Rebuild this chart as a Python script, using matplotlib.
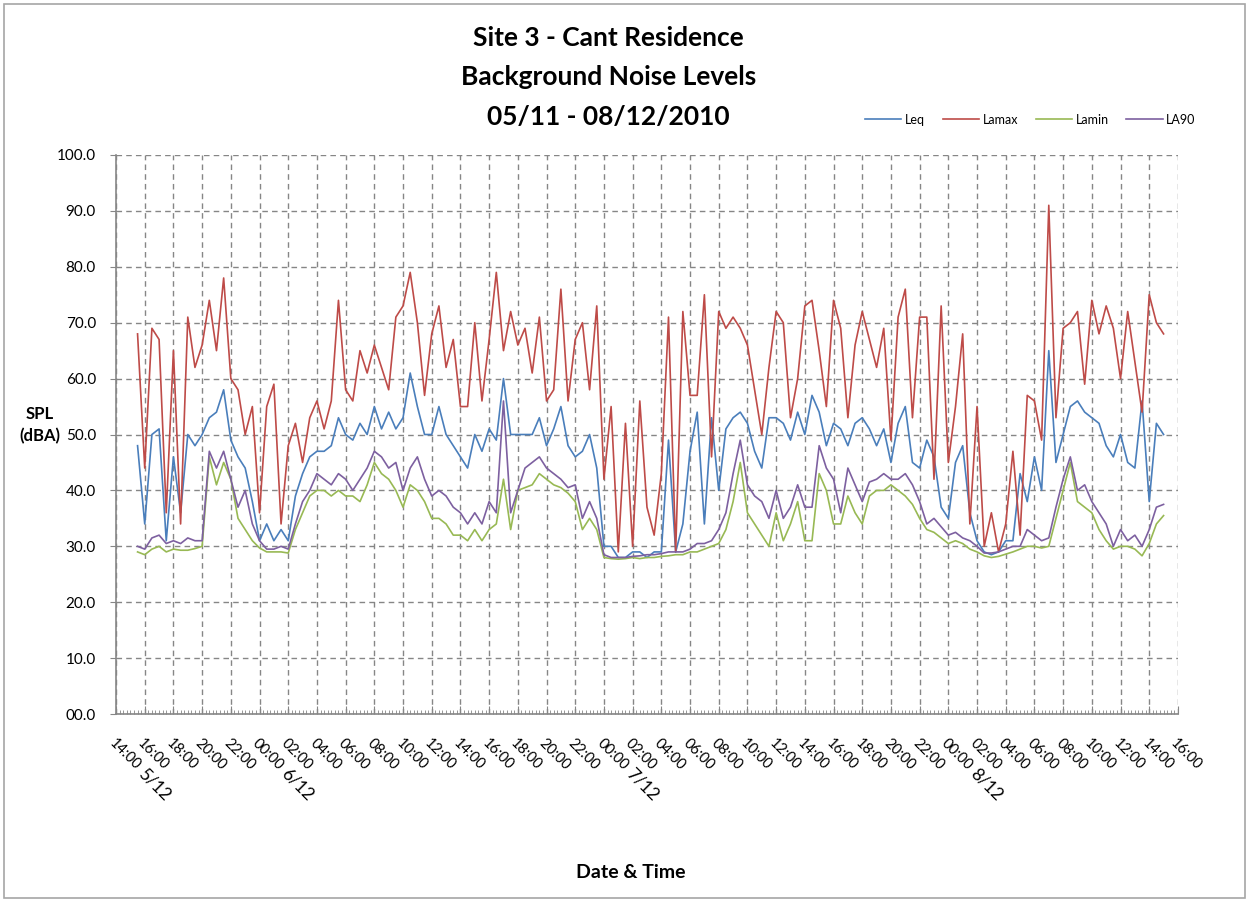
import numpy as np
import pandas as pd
import matplotlib
matplotlib.use("Agg")
import matplotlib.pyplot as plt
import matplotlib.dates as mdates
import matplotlib.transforms as mtransforms
from matplotlib.patches import Rectangle

plt.rcParams['font.family'] = ['Lato', 'DejaVu Sans']

# 30 minute readings, 15:30 05/12 to 15:00 08/12/2010
times = pd.date_range('2010-12-05 15:30', periods=144, freq='30min')

leq = [48, 34,
       50, 51, 31, 46,  36, 50, 48, 50,  53, 54, 58, 49,  46, 44, 38, 31,
       34, 31, 33, 31,  39, 43, 46, 47,  47, 48, 53, 50,  49, 52, 50, 55,
       51, 54, 51, 53,  61, 55, 50, 50,  55, 50, 48, 46,  44, 50, 47, 51,
       49, 60, 50, 50,  50, 50, 53, 48,  51, 55, 48, 46,  47, 50, 44, 30,
       30, 28, 28, 29,  29, 28, 29, 29,  49, 29, 34, 47,  54, 34, 53, 40,
       51, 53, 54, 52,  47, 44, 53, 53,  52, 49, 54, 50,  57, 54, 48, 52,
       51, 48, 52, 53,  51, 48, 51, 45,  52, 55, 45, 44,  49, 46, 37, 35,
       45, 48, 36, 31,  29, 28.5, 29, 31,  31, 43, 38, 46,  40, 65, 45, 50,
       55, 56, 54, 53,  52, 48, 46, 50,  45, 44, 56, 38,
       52, 50]

lamax = [68, 44,
         69, 67, 36, 65,  34, 71, 62, 66,  74, 65, 78, 60,  58, 50, 55, 36,
         55, 59, 34, 48,  52, 45, 53, 56,  51, 56, 74, 58,  56, 65, 61, 66,
         62, 58, 71, 73,  79, 70, 57, 68,  73, 62, 67, 55,  55, 70, 56, 67,
         79, 65, 72, 66,  69, 61, 71, 56,  58, 76, 56, 67,  70, 58, 73, 42,
         55, 29, 52, 30,  56, 37, 32, 43,  71, 29, 72, 57,  57, 75, 46, 72,
         69, 71, 69, 66,  58, 50, 62, 72,  70, 53, 60, 73,  74, 65, 55, 74,
         69, 53, 66, 72,  67, 62, 69, 49,  71, 76, 53, 71,  71, 42, 73, 45,
         55, 68, 34, 55,  30, 36, 29, 34,  47, 32, 57, 56,  49, 91, 53, 69,
         70, 72, 59, 74,  68, 73, 69, 60,  72, 63, 54, 75,
         70, 68]

lamin = [29, 28.5,
         29.5, 30, 29, 29.5,  29.3, 29.3, 29.6, 30,  46, 41, 45, 42,  35, 33, 31, 29.7,
         29, 29, 29, 28.8,  33, 36, 39, 40,  40, 39, 40, 39,  39, 38, 41, 45,
         43, 42, 40, 37,  41, 40, 38, 35,  35, 34, 32, 32,  31, 33, 31, 33,
         34, 42, 33, 40,  40.5, 41, 43, 42,  41, 40.5, 39.5, 38,  33, 35, 33, 28,
         27.8, 27.7, 27.8, 28,  27.8, 28, 28, 28.2,  28.3, 28.5, 28.5, 29,  29, 29.5, 30, 30.5,
         33, 38, 45, 36,  34, 32, 30, 36,  31, 34, 38, 31,  31, 43, 40, 34,
         34, 39, 36, 34,  39, 40, 40, 41,  40, 39, 37.5, 35,  33, 32.5, 31.5, 30.5,
         31, 30.5, 29.5, 29,  28.3, 28, 28.2, 28.6,  29, 29.5, 30, 30,  29.7, 30, 35, 40,
         45, 38, 37, 36,  33, 31, 29.5, 30,  30, 29.5, 28.3, 30.5,
         34, 35.5]

la90 = [30, 29.5,
        31.5, 32, 30.5, 31,  30.5, 31.5, 31, 31,  47, 44, 47, 42,  37, 40, 34, 31,
        29.5, 29.5, 30, 29.5,  34, 38, 40, 43,  42, 41, 43, 42,  40, 42, 44, 47,
        46, 44, 45, 40,  44, 46, 42, 39,  40, 39, 37, 36,  34, 36, 34, 38,
        36, 56, 36, 40,  44, 45, 46, 44,  43, 42, 40.5, 41,  35, 38, 35, 28.5,
        28, 28, 28, 28.2,  28.3, 28.5, 28.5, 28.7,  29, 29, 29, 29.5,  30.5, 30.5, 31, 33,
        36, 43, 49, 41,  39, 38, 35, 40,  35, 37, 41, 37,  37, 48, 44, 42,
        36, 44, 41, 38,  41.5, 42, 43, 42,  42, 43, 41, 38,  34, 35, 33.5, 32,
        32.5, 31.5, 31, 30,  28.8, 28.8, 29, 29.5,  30, 30, 33, 32,  31, 31.5, 37, 42,
        46, 40, 41, 38,  36, 34, 30, 33,  31, 32, 30, 33,
        37, 37.5]

series = [('Leq', leq, '#4A7EBB'), ('Lamax', lamax, '#BE4B48'),
          ('Lamin', lamin, '#98B954'), ('LA90', la90, '#7D60A0')]

date_labels = {pd.Timestamp('2010-12-05 14:00'): '5/12',
               pd.Timestamp('2010-12-06 00:00'): '6/12',
               pd.Timestamp('2010-12-07 00:00'): '7/12',
               pd.Timestamp('2010-12-08 00:00'): '8/12'}

fig = plt.figure(figsize=(12.49, 9.01), dpi=100)
fig.patches.append(Rectangle((0.003, 0.003), 0.994, 0.993, transform=fig.transFigure,
                             fill=False, edgecolor='#a6a6a6', lw=1.2))
ax = fig.add_axes([0.0929, 0.2075, 0.8502, 0.6205])

for name, vals, col in series:
    ax.plot(times, vals, color=col, lw=1.2, label=name)

ax.set_xlim(pd.Timestamp('2010-12-05 14:00'), pd.Timestamp('2010-12-08 16:00'))
ax.set_ylim(0, 100)
ax.set_yticks(np.arange(0, 101, 10))
ax.set_yticklabels(['00.0'] + ['%.1f' % v for v in np.arange(10, 101, 10)], fontsize=11)

ax.xaxis.set_major_locator(mdates.HourLocator(byhour=range(0, 24, 2)))
ax.xaxis.set_minor_locator(mdates.MinuteLocator(byminute=[0, 15, 30, 45]))
ax.xaxis.set_major_formatter(mdates.DateFormatter('%H:%M'))
for lab in ax.get_xticklabels():
    lab.set_rotation(-45)
    lab.set_ha('left')
    lab.set_va('top')
    lab.set_rotation_mode('anchor')
    lab.set_fontsize(10.5)

ax.tick_params(axis='x', which='major', direction='in', length=6, color='#868686', pad=16)
ax.tick_params(axis='x', which='minor', direction='in', length=3, color='#868686')
ax.tick_params(axis='y', direction='out', length=4.5, color='#868686', pad=10)

ax.grid(True, which='major', color='#868686', ls=(0, (4, 3)), lw=1)
ax.set_axisbelow(True)
for side in ['top', 'right']:
    ax.spines[side].set_visible(False)
for side in ['left', 'bottom']:
    ax.spines[side].set_color('#868686')
    ax.spines[side].set_linewidth(1.2)

# second-level date text right after the time label
for t, txt in date_labels.items():
    off = mtransforms.ScaledTranslation(22 / 72, -37 / 72, fig.dpi_scale_trans)
    ax.text(mdates.date2num(t), 0, txt, transform=ax.get_xaxis_transform() + off,
            rotation=-45, ha='left', va='top', rotation_mode='anchor', fontsize=12.5)

fig.text(0.487, 0.958, 'Site 3 - Cant Residence', ha='center', va='center',
         fontsize=19, fontweight='bold')
fig.text(0.487, 0.914, 'Background Noise Levels', ha='center', va='center',
         fontsize=19, fontweight='bold')
fig.text(0.487, 0.870, '05/11 - 08/12/2010', ha='center', va='center',
         fontsize=19, fontweight='bold')

fig.text(0.032, 0.528, 'SPL\n(dBA)', ha='center', va='center', fontsize=12,
         fontweight='bold', linespacing=1.5)
fig.text(0.505, 0.032, 'Date & Time', ha='center', va='center', fontsize=14,
         fontweight='bold')

fig.legend(loc='center', bbox_to_anchor=(0.825, 0.867), ncol=4, frameon=False,
           fontsize=9, handlelength=2.9, handletextpad=0.3, columnspacing=1.4)

fig.savefig('out.png', dpi=100)
